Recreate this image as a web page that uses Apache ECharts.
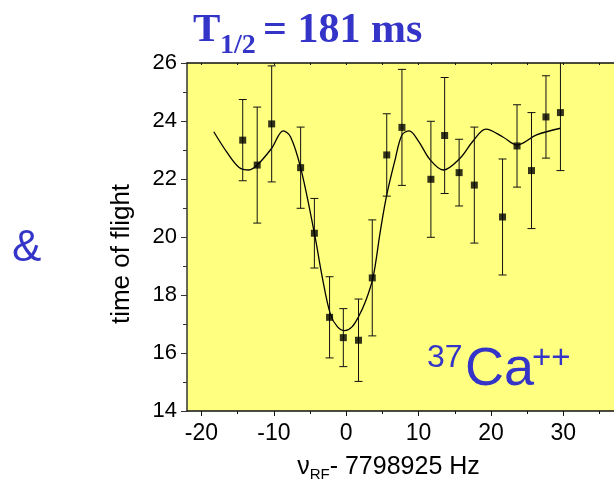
<!DOCTYPE html>
<html><head><meta charset="utf-8">
<script src="https://cdn.jsdelivr.net/npm/echarts@6/dist/echarts.min.js"></script>
<style>html,body{margin:0;padding:0;background:#fff}#c{width:614px;height:483px}</style>
</head><body><div id="c"></div>
<script>
// measured data points (frequency offset in Hz, time of flight, error)
const freqOffsets = [-14.3, -12.3, -10.3, -6.3, -4.4, -2.3, -0.4, 1.7, 3.6, 5.6, 7.7, 11.7, 13.6, 15.6, 17.7, 21.6, 23.6, 25.6, 27.6, 29.6];
const tof        = [23.34, 22.48, 23.9, 22.39, 20.13, 17.23, 16.53, 16.44, 18.59, 22.83, 23.78, 21.99, 23.5, 22.22, 21.79, 20.69, 23.14, 22.29, 24.14, 24.29];
const tofErr     = [1.4, 2.0, 2.0, 1.4, 1.2, 1.4, 1.0, 1.42, 2.0, 1.42, 2.0, 2.0, 2.0, 1.15, 2.0, 2.0, 1.42, 2.0, 1.42, 2.0];
// fitted curve
const fitX = [-18.3, -16.4, -14.8, -13.45, -12.3, -10.3, -8.7, -7.7, -6.3, -4.4, -3.3, -2.2, -1.2, -0.2, 0.8, 1.7, 2.7, 3.7, 4.7, 5.6, 6.75, 7.7, 8.7, 10.0, 11.6, 13.4, 15.7, 17.5, 19.3, 21.7, 23.6, 26.3, 29.6];
const fitY = [23.63, 22.89, 22.4, 22.31, 22.48, 23.06, 23.66, 23.46, 22.39, 20.13, 18.6, 17.35, 16.9, 16.77, 16.9, 17.25, 17.8, 18.6, 20.18, 21.45, 22.66, 23.52, 23.66, 23.3, 22.66, 22.31, 22.71, 23.3, 23.72, 23.44, 23.17, 23.52, 23.75];
const xMajorTicks = [-20, -10, 0, 10, 20, 30];
const xMinorTicks = [-15, -5, 5, 15, 25, 35];

const blue = '#3434c8';
const font = 'Liberation Sans';
const chart = echarts.init(document.getElementById('c'));

const points = freqOffsets.map((x, i) => [x, tof[i]]);
const bars = freqOffsets.map((x, i) => [x, tof[i] - tofErr[i], tof[i] + tofErr[i]]);
const fit = fitX.map((x, i) => [x, fitY[i]]);

chart.setOption({
  animation: false,
  backgroundColor: '#fff',
  grid: {left: 187, right: 0, top: 63, bottom: 72, show: true, backgroundColor: '#ffff80', borderWidth: 0,
         containLabel: false, outerBoundsMode: 'none'},
  xAxis: [
    {type: 'value', min: -22, max: 37, position: 'bottom',
     axisLine: {show: true, onZero: false, lineStyle: {color: '#111', width: 1.5}},
     axisTick: {show: true, customValues: xMajorTicks, length: 5, lineStyle: {color: '#111', width: 1}},
     axisLabel: {customValues: xMajorTicks, fontSize: 23, color: '#000', fontFamily: font, margin: 11},
     splitLine: {show: false},
     name: '{a|ν}{s|RF}{a|- 7798925 Hz}', nameLocation: 'middle', nameGap: 42,
     nameTextStyle: {padding: [0, 24, 0, 0], rich: {
       a: {fontSize: 25, fontFamily: font, color: '#000'},
       s: {fontSize: 15, fontFamily: font, color: '#000', padding: [14, 0, 0, 0]}
     }}},
    {type: 'value', min: -22, max: 37, position: 'bottom',
     axisLine: {show: false, onZero: false},
     axisTick: {show: true, customValues: xMinorTicks, length: 3, lineStyle: {color: '#111', width: 1}},
     axisLabel: {show: false}, splitLine: {show: false}},
    {type: 'value', min: -22, max: 37, position: 'top',
     axisLine: {show: true, onZero: false, lineStyle: {color: '#111', width: 1.5}},
     axisTick: {show: true, customValues: xMajorTicks.concat(xMinorTicks), inside: true, length: 2, lineStyle: {color: '#111'}},
     axisLabel: {show: false}, splitLine: {show: false}}
  ],
  yAxis: [
    {type: 'value', min: 14, max: 26, interval: 2, position: 'left',
     axisLine: {show: true, onZero: false, lineStyle: {color: '#333', width: 1.5}},
     axisTick: {show: true, length: 6, lineStyle: {color: '#333'}},
     minorTick: {show: true, splitNumber: 2, length: 4, lineStyle: {color: '#333'}},
     axisLabel: {fontSize: 22, color: '#000', fontFamily: font, margin: 10},
     splitLine: {show: false},
     name: 'time of flight', nameLocation: 'middle', nameGap: 52,
     nameTextStyle: {fontSize: 26, fontFamily: font, color: '#000', padding: [0, 34, 0, 0]}}
  ],
  series: [
    {type: 'line', data: fit, smooth: 0.35, symbol: 'none', xAxisIndex: 0,
     lineStyle: {color: '#000', width: 1.3}, z: 3},
    {type: 'custom', data: bars, xAxisIndex: 0, clip: true, z: 4,
     renderItem: function (params, api) {
       const x = api.value(0);
       const lo = api.coord([x, api.value(1)]);
       const hi = api.coord([x, api.value(2)]);
       const w = 4;
       const st = {stroke: '#111', lineWidth: 1};
       return {type: 'group', children: [
         {type: 'line', shape: {x1: lo[0], y1: lo[1], x2: hi[0], y2: hi[1]}, style: st},
         {type: 'line', shape: {x1: lo[0] - w, y1: lo[1], x2: lo[0] + w, y2: lo[1]}, style: st},
         {type: 'line', shape: {x1: hi[0] - w, y1: hi[1], x2: hi[0] + w, y2: hi[1]}, style: st}
       ]};
     }},
    {type: 'scatter', data: points, symbol: 'rect', symbolSize: 7, xAxisIndex: 0,
     itemStyle: {color: '#000'}, z: 5}
  ],
  graphic: [
    {type: 'text', left: 193, top: 10, style: {text: 'T', fontSize: 41, fontWeight: 'bold', fontFamily: 'Liberation Serif', fill: blue}},
    {type: 'text', left: 220, top: 32, style: {text: '1/2', fontSize: 28, fontWeight: 'bold', fontFamily: 'Liberation Serif', fill: blue}},
    {type: 'text', left: 263, top: 10, style: {text: '= 181 ms', fontSize: 42, fontWeight: 'bold', fontFamily: 'Liberation Serif', fill: blue}},
    {type: 'text', left: 12, top: 227, style: {text: '&', fontSize: 44, fontFamily: font, fill: blue}},
    {type: 'text', left: 427, top: 342, style: {text: '37', fontSize: 32, fontFamily: font, fill: blue}},
    {type: 'text', left: 465, top: 343, style: {text: 'Ca', fontSize: 54, fontFamily: font, fill: blue}},
    {type: 'text', left: 532, top: 342, style: {text: '++', fontSize: 33, fontFamily: font, fill: blue}}
  ]
});
</script>
</body></html>
